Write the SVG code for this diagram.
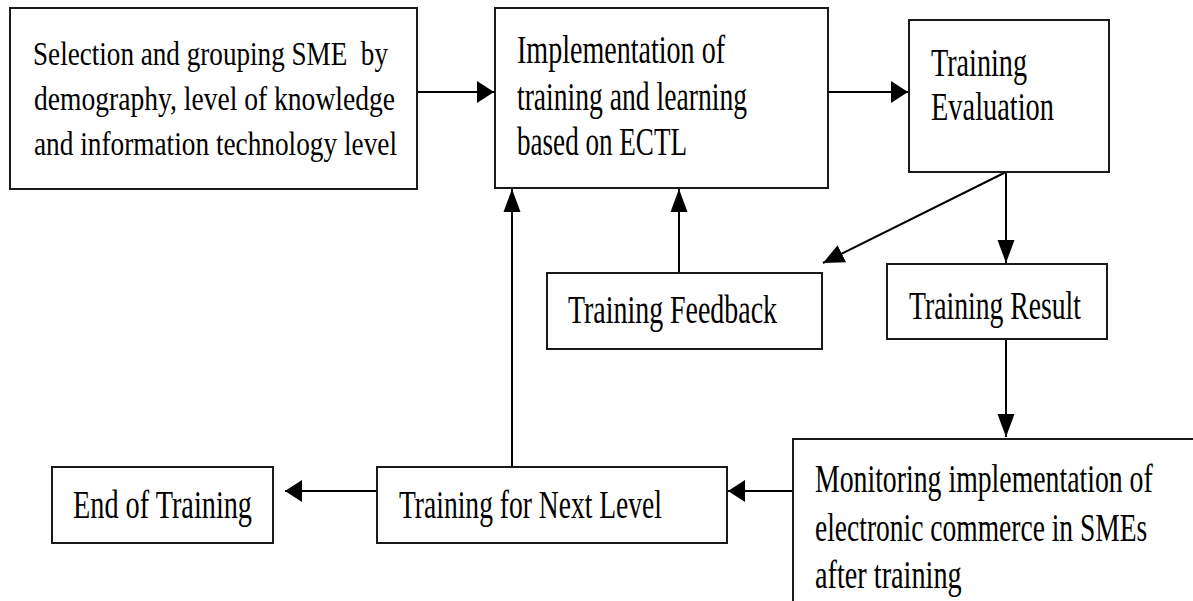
<svg xmlns="http://www.w3.org/2000/svg" width="1193" height="601" viewBox="0 0 1193 601">
  <defs>
    <style>
      .box { fill: #fff; stroke: #1a1a1a; stroke-width: 2; }
      .lbl { font-family: "Liberation Serif", "Times New Roman", serif; font-size: 39px; fill: #000; }
      .sm { font-size: 34px; }
      .wire { fill: none; stroke: #000; stroke-width: 2; }
    </style>
    <!-- heads for horizontal runs: short and tall -->
    <marker id="arrow-h" markerUnits="userSpaceOnUse" markerWidth="18" markerHeight="24" viewBox="0 0 18 24" refX="17" refY="12" orient="auto">
      <path d="M0,1 L17,12 L0,23 Z" fill="#000"/>
    </marker>
    <!-- heads for vertical runs: long and narrow -->
    <marker id="arrow-v" markerUnits="userSpaceOnUse" markerWidth="24" markerHeight="18" viewBox="0 0 24 18" refX="23" refY="9" orient="auto">
      <path d="M0,0.5 L23,9 L0,17.5 Z" fill="#000"/>
    </marker>
    <marker id="arrow-d" markerUnits="userSpaceOnUse" markerWidth="22" markerHeight="20" viewBox="0 0 22 20" refX="21" refY="10" orient="auto">
      <path d="M0,0.5 L21,10 L0,19.5 Z" fill="#000"/>
    </marker>
  </defs>
  <rect width="1193" height="601" fill="#fff"/>

  <g id="connectors">
    <line class="wire" x1="417" y1="92" x2="494" y2="92" marker-end="url(#arrow-h)"/>
    <line class="wire" x1="828" y1="92" x2="908" y2="92" marker-end="url(#arrow-h)"/>
    <line class="wire" x1="1006" y1="172" x2="823" y2="263" marker-end="url(#arrow-d)"/>
    <line class="wire" x1="1006" y1="172" x2="1006" y2="263" marker-end="url(#arrow-v)"/>
    <line class="wire" x1="679" y1="273" x2="679" y2="189" marker-end="url(#arrow-v)"/>
    <line class="wire" x1="1006" y1="339" x2="1006" y2="437" marker-end="url(#arrow-v)"/>
    <line class="wire" x1="793" y1="491" x2="728" y2="491" marker-end="url(#arrow-h)"/>
    <line class="wire" x1="377" y1="491" x2="285" y2="491" marker-end="url(#arrow-h)"/>
    <line class="wire" x1="512" y1="467" x2="512" y2="189" marker-end="url(#arrow-v)"/>
  </g>

  <g id="selection">
    <rect class="box" x="10" y="8" width="407" height="181"/>
    <text class="lbl sm" x="33" y="65" textLength="355" lengthAdjust="spacingAndGlyphs">Selection and grouping SME&#160; by</text>
    <text class="lbl sm" x="34" y="110" textLength="361" lengthAdjust="spacingAndGlyphs">demography, level of knowledge</text>
    <text class="lbl sm" x="34" y="155" textLength="363" lengthAdjust="spacingAndGlyphs">and information technology level</text>
  </g>

  <g id="implementation">
    <rect class="box" x="495" y="8" width="333" height="180"/>
    <text class="lbl" x="517" y="63" textLength="208" lengthAdjust="spacingAndGlyphs">Implementation of</text>
    <text class="lbl" x="517" y="110" textLength="230" lengthAdjust="spacingAndGlyphs">training and learning</text>
    <text class="lbl" x="517" y="155" textLength="170" lengthAdjust="spacingAndGlyphs">based on ECTL</text>
  </g>

  <g id="evaluation">
    <rect class="box" x="909" y="20" width="200" height="152"/>
    <text class="lbl" x="931" y="76" textLength="96" lengthAdjust="spacingAndGlyphs">Training</text>
    <text class="lbl" x="931" y="120" textLength="123" lengthAdjust="spacingAndGlyphs">Evaluation</text>
  </g>

  <g id="feedback">
    <rect class="box" x="547" y="273" width="275" height="76"/>
    <text class="lbl" x="568" y="323" textLength="209" lengthAdjust="spacingAndGlyphs">Training Feedback</text>
  </g>

  <g id="result">
    <rect class="box" x="887" y="264" width="220" height="75"/>
    <text class="lbl" x="909" y="319" textLength="172" lengthAdjust="spacingAndGlyphs">Training Result</text>
  </g>

  <g id="monitoring">
    <!-- box runs off the right and bottom edges -->
    <path class="box" d="M1193,439 H793 V601"/>
    <!-- narrowed horizontally so the glyph boxes stay inside the frame -->
    <g transform="translate(815,0) scale(0.78,1)">
      <text class="lbl" x="0" y="492" textLength="433" lengthAdjust="spacingAndGlyphs">Monitoring implementation of</text>
      <text class="lbl" x="0" y="541" textLength="426" lengthAdjust="spacingAndGlyphs">electronic commerce in SMEs</text>
      <text class="lbl" x="0" y="588" textLength="188" lengthAdjust="spacingAndGlyphs">after training</text>
    </g>
  </g>

  <g id="next-level">
    <rect class="box" x="377" y="467" width="350" height="76"/>
    <text class="lbl" x="399" y="518" textLength="263" lengthAdjust="spacingAndGlyphs">Training for Next Level</text>
  </g>

  <g id="end">
    <rect class="box" x="52" y="467" width="221" height="76"/>
    <text class="lbl" x="73" y="518" textLength="179" lengthAdjust="spacingAndGlyphs">End of Training</text>
  </g>
</svg>
